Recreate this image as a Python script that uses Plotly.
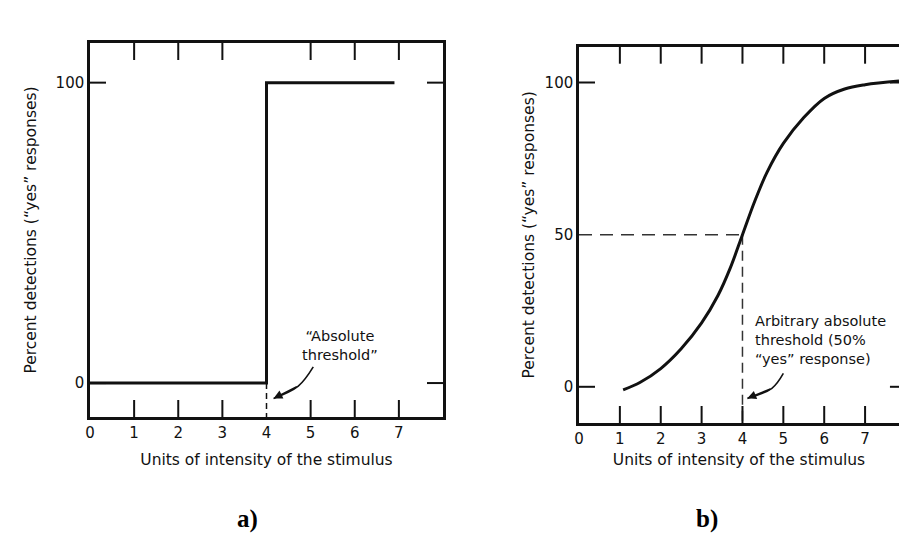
import plotly.graph_objects as go

# ---------------- data ----------------
# a) idealised all-or-nothing threshold
step_x = [0, 4, 4, 6.9]
step_y = [0, 0, 100, 100]

# b) empirical psychometric function
curve_x = [1.08, 1.5, 2.0, 2.5, 3.0, 3.4, 3.7, 4.0, 4.3, 4.6,
           5.0, 5.5, 6.0, 6.5, 7.0, 7.83]
curve_y = [-1.0, 1.5, 6.0, 12.5, 21.0, 30.0, 39.0, 50.0, 61.0, 70.5,
           80.0, 88.5, 94.8, 97.9, 99.3, 100.5]

threshold_x = 4
threshold_level = 50

# curved pointer arrows (tail, bend, head)
arrow_a_x = [5.06, 4.72, 4.16]
arrow_a_y = [5.4, -1.0, -5.1]
arrow_b_x = [5.00, 4.72, 4.12]
arrow_b_y = [4.4, -0.5, -3.8]

x_tick_vals = [0, 1, 2, 3, 4, 5, 6, 7]
x_tick_text = ["0", "1", "2", "3", "4", "5", "6", "7"]
a_top_ticks = [1, 2, 3, 5, 6, 7]
a_bottom_ticks = [1, 2, 3, 5, 6, 7]
b_top_ticks = [1, 2, 3, 4, 5, 6, 7]
b_bottom_ticks = [1, 2, 3, 4, 5, 6, 7]
a_y_ticks = [0, 100]
b_y_ticks = [0, 50, 100]
b_y_side_ticks = [0, 100]

a_x_range = [0, 8]
a_y_range = [-11.3, 113.2]
b_x_range = [0, 7.83]
b_x_edge = 8.0
b_y_range = [-11.9, 111.8]

X_TITLE = "Units of intensity of the stimulus"
Y_TITLE = "Percent detections (\u201cyes\u201d responses)"

# ---------------- styling ----------------
W, H = 899, 551
FONT = "DejaVu Sans"
INK = "#111111"
LINE_W = 2.5
TICK_W = 2
TICK_LEN = 17

a_dom_x = [90 / W, 443 / W]
a_dom_y = [1 - 417 / H, 1 - 43 / H]
b_dom_x = [579 / W, 1.0]
b_dom_y = [1 - 423 / H, 1 - 46.7 / H]

fig = go.Figure()


def line_trace(x, y, xa, ya, width, color=INK, dash=None, shape="linear"):
    return go.Scatter(x=x, y=y, mode="lines", xaxis=xa, yaxis=ya,
                      line=dict(color=color, width=width, dash=dash, shape=shape),
                      showlegend=False, hoverinfo="skip")


# panel a
fig.add_trace(line_trace(step_x, step_y, "x", "y", 3))
fig.add_trace(line_trace([threshold_x, threshold_x], [0, a_y_range[0]], "x", "y",
                         1.5, dash="6px,4px"))
fig.add_trace(line_trace(arrow_a_x, arrow_a_y, "x", "y", 1.6, shape="spline"))

# panel b
fig.add_trace(line_trace([0, threshold_x], [threshold_level, threshold_level],
                         "x2", "y2", 1.5, color="#333333", dash="13px,8px"))
fig.add_trace(line_trace([threshold_x, threshold_x], [threshold_level, b_y_range[0]],
                         "x2", "y2", 1.5, color="#333333", dash="10px,6px"))
fig.add_trace(go.Scatter(x=curve_x, y=curve_y, mode="lines", xaxis="x2", yaxis="y2",
                         line=dict(color=INK, width=3, shape="spline", smoothing=1.0),
                         showlegend=False, hoverinfo="skip"))
fig.add_trace(line_trace(arrow_b_x, arrow_b_y, "x2", "y2", 1.6, shape="spline"))

shapes = []


def xticks(vals, xref, yref, dom_h, top):
    frac = TICK_LEN / dom_h
    for v in vals:
        y0, y1 = (1, 1 - frac) if top else (0, frac)
        shapes.append(dict(type="line", xref=xref, yref=yref + " domain",
                           x0=v, x1=v, y0=y0, y1=y1,
                           line=dict(color=INK, width=TICK_W)))


def yticks(vals, xref, yref, dom_w, right, x_at=None, px_per_unit=None):
    frac = 16 / dom_w
    for v in vals:
        if x_at is not None:
            shapes.append(dict(type="line", xref=xref, yref=yref,
                               x0=x_at, x1=x_at - 16 / px_per_unit, y0=v, y1=v,
                               line=dict(color=INK, width=TICK_W)))
            continue
        x0, x1 = (1, 1 - frac) if right else (0, frac)
        shapes.append(dict(type="line", xref=xref + " domain", yref=yref,
                           x0=x0, x1=x1, y0=v, y1=v,
                           line=dict(color=INK, width=TICK_W)))


a_h = 417 - 43
a_w = 443 - 90
b_h = 423 - 46.7
b_w = 899 - 579
b_px_per_unit = b_w / b_x_range[1]

xticks(a_top_ticks, "x", "y", a_h, True)
xticks(a_bottom_ticks, "x", "y", a_h, False)
yticks(a_y_ticks, "x", "y", a_w, False)
yticks(a_y_ticks, "x", "y", a_w, True)

xticks(b_top_ticks, "x2", "y2", b_h, True)
xticks(b_bottom_ticks, "x2", "y2", b_h, False)
yticks(b_y_side_ticks, "x2", "y2", b_w, False)
yticks(b_y_side_ticks, "x2", "y2", b_w, True, x_at=b_x_edge, px_per_unit=b_px_per_unit)

fig.update_layout(shapes=shapes)

axis_common = dict(showgrid=False, zeroline=False, ticks="", showline=True,
                   linecolor=INK, linewidth=LINE_W, automargin=False,
                   tickfont=dict(family=FONT, size=15, color=INK),
                   title_font=dict(family=FONT, size=15.5, color=INK))

fig.update_layout(
    width=W, height=H, autosize=False,
    margin=dict(l=0, r=0, t=0, b=0),
    paper_bgcolor="white", plot_bgcolor="white",
    xaxis=dict(domain=a_dom_x, range=a_x_range, anchor="y", mirror=True,
               tickvals=x_tick_vals, ticktext=x_tick_text,
               title=dict(text=X_TITLE, standoff=14), **axis_common),
    yaxis=dict(domain=a_dom_y, range=a_y_range, anchor="x", mirror=True,
               tickvals=a_y_ticks, ticktext=[str(v) for v in a_y_ticks],
               title=dict(text=Y_TITLE, standoff=16), **axis_common),
    xaxis2=dict(domain=b_dom_x, range=b_x_range, anchor="y2", mirror=True,
                tickvals=x_tick_vals, ticktext=x_tick_text,
                title=dict(text=X_TITLE, standoff=8), **axis_common),
    yaxis2=dict(domain=b_dom_y, range=b_y_range, anchor="x2", mirror=False,
                tickvals=b_y_ticks, ticktext=[str(v) for v in b_y_ticks],
                title=dict(text=Y_TITLE, standoff=7), **axis_common),
)

ann_font = dict(family=FONT, size=14.5, color=INK)
fig.add_annotation(x=5.67, y=12.6, xref="x", yref="y",
                   text="\u201cAbsolute<br>threshold\u201d", showarrow=False,
                   font=ann_font, align="center")
fig.add_annotation(x=arrow_a_x[-1], y=arrow_a_y[-1], ax=arrow_a_x[-2], ay=arrow_a_y[-2],
                   xref="x", yref="y", axref="x", ayref="y",
                   text="", showarrow=True, arrowhead=2, arrowsize=1.1,
                   arrowwidth=1.6, arrowcolor=INK, standoff=0)

fig.add_annotation(x=threshold_x + 0.26, y=15.4, xref="x2", yref="y2",
                   text="Arbitrary absolute<br>threshold (50%<br>\u201cyes\u201d response)",
                   showarrow=False, font=ann_font, align="left", xanchor="left")
fig.add_annotation(x=arrow_b_x[-1], y=arrow_b_y[-1], ax=arrow_b_x[-2], ay=arrow_b_y[-2],
                   xref="x2", yref="y2", axref="x2", ayref="y2",
                   text="", showarrow=True, arrowhead=2, arrowsize=1.1,
                   arrowwidth=1.6, arrowcolor=INK, standoff=0)

panel_font = dict(family="Liberation Serif", size=25, color="black")
fig.add_annotation(x=235 / W, y=1 - 535 / H, xref="paper", yref="paper",
                   text="<b>a)</b>", showarrow=False, font=panel_font)
fig.add_annotation(x=720 / W, y=1 - 535 / H, xref="paper", yref="paper",
                   text="<b>b)</b>", showarrow=False, font=panel_font)

fig.write_html("out.html")
